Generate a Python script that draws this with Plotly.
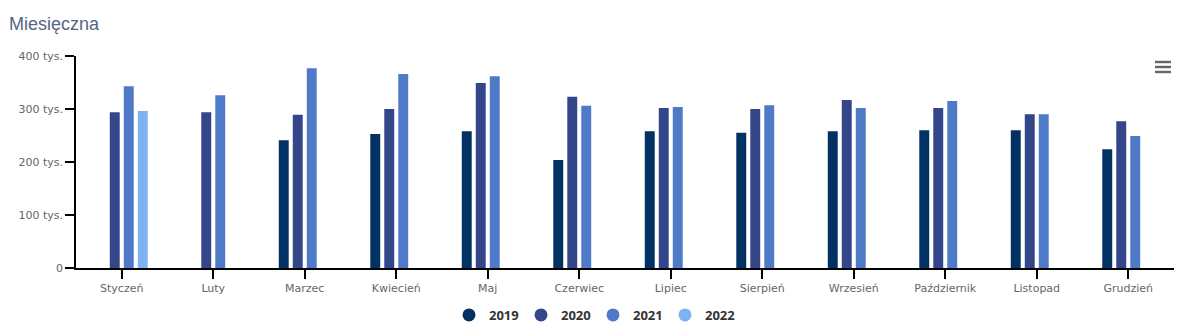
import plotly.graph_objects as go

months = ["Styczeń", "Luty", "Marzec", "Kwiecień", "Maj", "Czerwiec", "Lipiec",
          "Sierpień", "Wrzesień", "Październik", "Listopad", "Grudzień"]
series_names = ["2019", "2020", "2021", "2022"]
v2019 = [None, None, 241, 253, 258, 204, 258, 255, 258, 260, 260, 224]
v2020 = [294, 294, 289, 300, 349, 323, 302, 300, 317, 302, 290, 277]
v2021 = [343, 326, 377, 366, 362, 306, 304, 307, 302, 315, 290, 249]
v2022 = [296, None, None, None, None, None, None, None, None, None, None, None]
colors = ["#023264", "#34468a", "#4e7ac8", "#7db3f0"]
y_ticks = [0, 100, 200, 300, 400]
y_tick_labels = ["0", "100 tys.", "200 tys.", "300 tys.", "400 tys."]

W, H = 1182, 333
ML, MR, MT, MB = 76, 8, 56, 65

fig = go.Figure()
for name, vals, col in zip(series_names, [v2019, v2020, v2021, v2022], colors):
    fig.add_trace(go.Bar(x=months, y=vals, name=name, marker_color=col,
                         marker_line_width=0, showlegend=False))
for name, col in zip(series_names, colors):
    fig.add_trace(go.Scatter(x=[None], y=[None], mode="markers", name=name,
                             marker=dict(symbol="circle", size=13, color=col)))

pw = W - ML - MR
ph = H - MT - MB
def px_x(x):
    return (x - ML) / pw
def px_y(y):
    return (H - MB - y) / ph

shapes = []
for yy in [62, 67, 72]:
    shapes.append(dict(type="rect", xref="paper", yref="paper",
                       x0=px_x(1155), x1=px_x(1171), y0=px_y(yy - 1.2), y1=px_y(yy + 1.2),
                       fillcolor="#666666", line_width=0, layer="above"))

tick_font = dict(family="DejaVu Sans", size=11, color="#666666")
fig.update_layout(
    width=W, height=H,
    margin=dict(l=ML, r=MR, t=MT, b=MB, autoexpand=False),
    paper_bgcolor="white", plot_bgcolor="white",
    barmode="group", bargap=0.388, bargroupgap=0.29,
    title=dict(text="Miesięczna", x=9 / W, xref="container", xanchor="left",
               y=1 - 24 / H, yref="container", yanchor="middle",
               font=dict(family="Liberation Sans, Arial", size=18, color="#56657f")),
    font=dict(family="DejaVu Sans", size=11, color="#666666"),
    xaxis=dict(showline=True, linecolor="#000000", linewidth=1.5, ticks="outside",
               ticklen=9, tickcolor="#000000", tickwidth=1.5, showgrid=False,
               tickfont=tick_font),
    yaxis=dict(range=[0, 400], tickvals=y_ticks, ticktext=y_tick_labels,
               showline=True, linecolor="#000000", linewidth=1.5, ticks="outside",
               ticklen=9, tickcolor="#000000", tickwidth=1.5, showgrid=False,
               zeroline=False, tickfont=tick_font),
    legend=dict(orientation="h", xref="container", x=593 / W, xanchor="center",
                yref="container", y=1 - 315 / H, yanchor="middle",
                entrywidth=27, entrywidthmode="pixels",
                font=dict(family="Open Sans", size=13, color="#333333", weight="bold"),
                itemclick=False),
    shapes=shapes,
)
fig.write_html("out.html")
